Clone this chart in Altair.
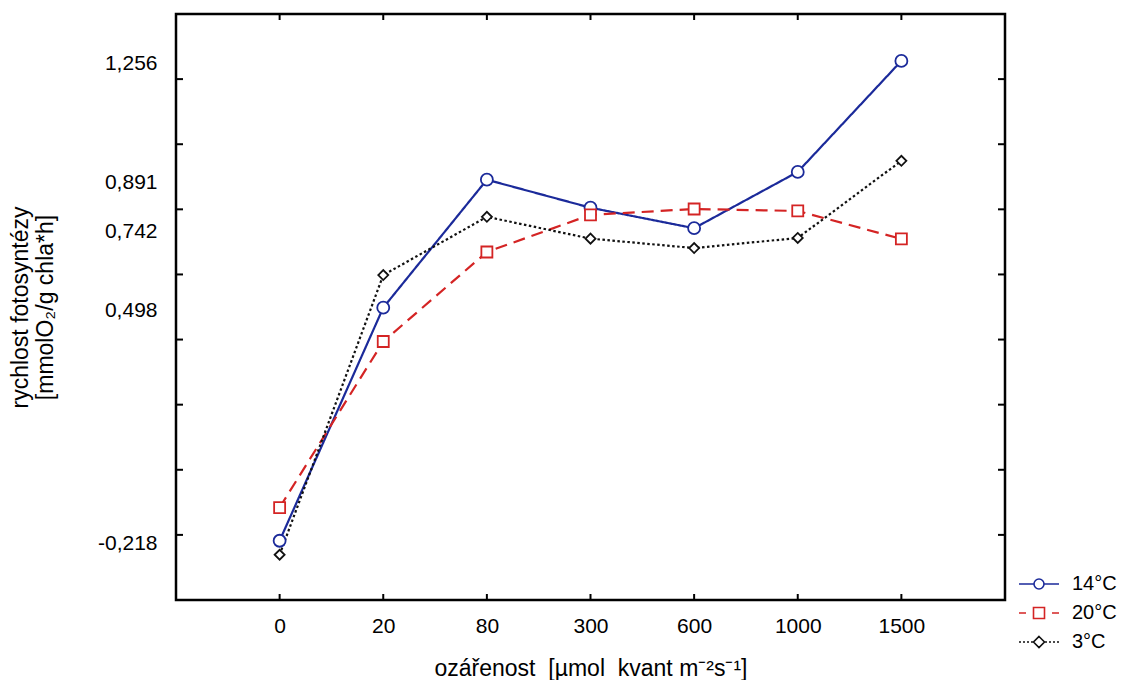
import altair as alt
import pandas as pd

# ---- data ----
irradiance = ["0", "20", "80", "300", "600", "1000", "1500"]
series_names = ["14°C", "20°C", "3°C"]
rate_14 = [-0.218, 0.498, 0.891, 0.805, 0.742, 0.915, 1.256]
rate_20 = [-0.116, 0.394, 0.669, 0.783, 0.801, 0.795, 0.709]
rate_3 = [-0.261, 0.598, 0.777, 0.710, 0.681, 0.712, 0.949]
y_label_values = [1.256, 0.891, 0.742, 0.498, -0.218]
y_tick_values = [-0.2, 0.0, 0.2, 0.4, 0.6, 0.8, 1.0, 1.2]

colors = ["#1b2a9a", "#d42424", "#111111"]
dashes = [[1, 0], [12, 7], [2.5, 2.5]]
shapes = ["circle", "square", "diamond"]
sizes = [144, 121, 100]

FONT = "Liberation Sans"
W, H = 829, 586
NB = "\u00a0"

rows = []
for name, vals in zip(series_names, [rate_14, rate_20, rate_3]):
    for i, (irr, v) in enumerate(zip(irradiance, vals)):
        rows.append({"series": name, "irr": irr, "idx": i, "val": v})
df = pd.DataFrame(rows)

ytick_df = pd.DataFrame({"val": y_tick_values})
xtick_df = pd.DataFrame({"irr": irradiance})

x_enc = alt.X(
    "irr:N",
    scale=alt.Scale(type="point", padding=1, domain=irradiance),
    axis=alt.Axis(
        title="ozářenost " + NB + "[µmol " + NB + "kvant m⁻²s⁻¹]",
        titleFontSize=23,
        titleFontWeight="normal",
        titleFont=FONT,
        titlePadding=21,
        labelFontSize=21,
        labelFont=FONT,
        labelPadding=15,
        labelAngle=0,
        ticks=False,
        tickSize=0,
        domain=False,
        grid=False,
        labelColor="black",
        titleColor="black",
    ),
)

y_enc = alt.Y(
    "val:Q",
    scale=alt.Scale(domain=[-0.4, 1.4], nice=False, zero=False),
    axis=alt.Axis(
        values=y_label_values,
        labelExpr="replace(toString(datum.value), '.', ',')",
        ticks=False,
        tickSize=0,
        domain=False,
        grid=False,
        labelFontSize=21,
        labelFont=FONT,
        labelPadding=19,
        labelOffset=3,
        labelColor="black",
        title=["rychlost fotosyntézy", "[mmolO₂/g chla*h]"],
        titleFontSize=23,
        titleFontWeight="normal",
        titleFont=FONT,
        titleColor="black",
        titlePadding=40,
        titleLineHeight=25,
    ),
)

base = alt.Chart(df)

# one line + marker layer per series (fixed styles, no scales -> no hidden legends)
line_layers = []
marker_layers = []
for name, col, dsh, shp, sz in zip(series_names, colors, dashes, shapes, sizes):
    sub = base.transform_filter(alt.datum.series == name)
    line_layers.append(
        sub.mark_line(color=col, strokeDash=dsh, strokeWidth=2.2).encode(
            x=x_enc, y=y_enc, order="idx:Q"
        )
    )
    marker_layers.append(
        sub.mark_point(shape=shp, size=sz, filled=False, fill="white", fillOpacity=1,
                       stroke=col, strokeWidth=1.8, opacity=1)
        .encode(x=x_enc, y=y_enc)
    )

circle = "M1,0A1,1 0 1,1 -1,0A1,1 0 1,1 1,0Z"
square = "M-1.1,-1.1H1.1V1.1H-1.1Z"
diamond = "M0,-1.1L1.1,0L0,1.1L-1.1,0Z"
legend_paths = [
    "M-4,0H-1M1,0H4" + circle,
    "M-4,0H-2.6M2.6,0H4" + square,
    "M-4,0H-3.6M-3.2,0H-2.8M-2.4,0H-2M-1.6,0H-1.2M1.2,0H1.6M2,0H2.4M2.8,0H3.2M3.6,0H4" + diamond,
]

leg = alt.Legend(
    title=None,
    orient="none",
    legendX=853,
    legendY=560,
    padding=0,
    labelFontSize=20,
    labelFont=FONT,
    labelColor="black",
    labelOffset=23,
    rowPadding=9,
    symbolSize=100,
    symbolStrokeWidth=1.6,
    symbolOpacity=1,
    labelExpr="length(datum.label) < 4 ? '\u2007' + datum.label : datum.label",
)

legend_layer = (
    base.mark_point(filled=False, strokeWidth=1.6)
    .encode(
        x=x_enc,
        y=y_enc,
        stroke=alt.Stroke("series:N", scale=alt.Scale(domain=series_names, range=colors), legend=leg),
        shape=alt.Shape("series:N", scale=alt.Scale(domain=series_names, range=legend_paths), legend=leg),
        opacity=alt.value(0),
    )
)

ytick_base = alt.Chart(ytick_df).mark_rule(color="black", strokeWidth=2)
left_ticks = ytick_base.encode(y=y_enc, x=alt.value(0), x2=alt.value(7))
right_ticks = ytick_base.encode(y=y_enc, x=alt.value(W - 7), x2=alt.value(W))

xtick_base = alt.Chart(xtick_df).mark_rule(color="black", strokeWidth=2)
top_ticks = xtick_base.encode(x=x_enc, y=alt.value(0), y2=alt.value(6))
bottom_ticks = xtick_base.encode(x=x_enc, y=alt.value(H - 6), y2=alt.value(H))

chart = (
    alt.layer(left_ticks, right_ticks, top_ticks, bottom_ticks,
              *line_layers, *marker_layers, legend_layer)
    .properties(
        width=W,
        height=H,
        autosize=alt.AutoSizeParams(type="none"),
        padding={"left": 168, "top": 6, "right": 114, "bottom": 80},
        background="white",
    )
    .configure_view(stroke="black", strokeWidth=2.5)
)

chart.save("out.html", embed_options={"renderer": "svg", "actions": False})
